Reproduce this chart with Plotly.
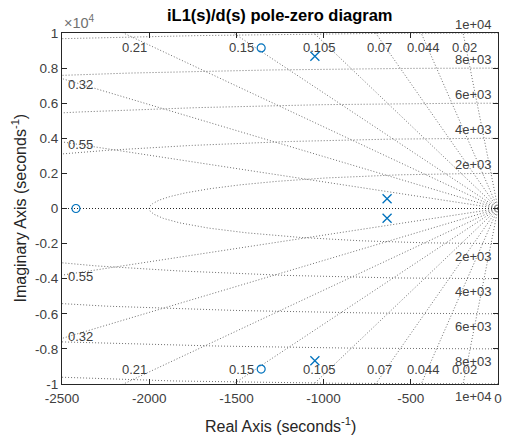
import numpy as np
import plotly.graph_objects as go

# ---- data ----
zero_re = [-2420, -1358, -1358]
zero_im = [0, 9150, -9150]
pole_re = [-1050, -1050, -636, -636]
pole_im = [8680, -8680, 560, -560]

zeta_vals = [0.02, 0.044, 0.07, 0.105, 0.15, 0.21, 0.32, 0.55]
zeta_text = ["0.02", "0.044", "0.07", "0.105", "0.15", "0.21", "0.32", "0.55"]
wn_vals = [2000, 4000, 6000, 8000, 10000]
wn_text = ["2e+03", "4e+03", "6e+03", "8e+03", "1e+04"]

x_range = [-2500, 0]
y_range = [-10000, 10000]
x_ticks = [-2500, -2000, -1500, -1000, -500, 0]
x_ticktext = ["-2500", "-2000", "-1500", "-1000", "-500", "0"]
y_ticks = [-10000, -8000, -6000, -4000, -2000, 0, 2000, 4000, 6000, 8000, 10000]
y_ticktext = ["-1", "-0.8", "-0.6", "-0.4", "-0.2", "0", "0.2", "0.4", "0.6", "0.8", "1"]

GRID = "rgb(112,112,112)"
AX = "#262626"
TXT = "#404040"
BLUE = "#0072BD"
FONT = "Liberation Sans, Arial, sans-serif"

fig = go.Figure()

# damping-ratio rays
R = 40000
for z in zeta_vals:
    s = np.sqrt(1 - z * z)
    fig.add_trace(go.Scatter(x=[0, -R * z, None, 0, -R * z], y=[0, R * s, None, 0, -R * s],
                             mode="lines", line=dict(color=GRID, width=1, dash="1px,2px"),
                             hoverinfo="skip", showlegend=False))
# natural-frequency arcs
t = np.linspace(-np.pi / 2, np.pi / 2, 721)
for w in wn_vals:
    fig.add_trace(go.Scatter(x=-w * np.cos(t), y=w * np.sin(t), mode="lines",
                             line=dict(color=GRID, width=1, dash="1px,2px"),
                             hoverinfo="skip", showlegend=False))
# real axis (zeta = 1)
fig.add_trace(go.Scatter(x=[x_range[0], 0], y=[0, 0], mode="lines",
                         line=dict(color=AX, width=1, dash="1px,2px"),
                         hoverinfo="skip", showlegend=False))

# zeros and poles
fig.add_trace(go.Scatter(x=zero_re, y=zero_im, mode="markers",
                         marker=dict(symbol="circle-open", size=8, color=BLUE, line=dict(width=1.2)),
                         showlegend=False, cliponaxis=False))
fig.add_trace(go.Scatter(x=pole_re, y=pole_im, mode="markers",
                         marker=dict(symbol="x-thin-open", size=9, color=BLUE, line=dict(width=1.3, color=BLUE)),
                         showlegend=False, cliponaxis=False))

ann = []
xmin, ymax = x_range[0], y_range[1]
for z, lab in zip(zeta_vals, zeta_text):
    s = np.sqrt(1 - z * z)
    y_at_left = -xmin * 0.957 * s / z
    if y_at_left < 0.965 * ymax:
        xl = 0.957 * xmin
        for sign, ysh in [(1, 0), (-1, -4)]:
            ann.append(dict(x=xl, y=sign * (-xl) * s / z, text=lab, showarrow=False,
                            xanchor="center", yanchor="middle", yshift=ysh,
                            font=dict(size=13, color=TXT, family=FONT)))
    else:
        y0 = 0.97 * ymax
        x0 = -y0 * z / s
        ann.append(dict(x=x0, y=y0, text=lab, showarrow=False, xanchor="center", yanchor="top",
                        font=dict(size=13, color=TXT, family=FONT)))
        ann.append(dict(x=x0, y=-y0, text=lab, showarrow=False, xanchor="center", yanchor="bottom",
                        font=dict(size=13, color=TXT, family=FONT)))
for w, lab in zip(wn_vals, wn_text):
    xr = 0.01 * xmin
    ann.append(dict(x=xr, y=w, text=lab, showarrow=False, xanchor="right", yanchor="bottom",
                    yshift=-1, font=dict(size=13, color=TXT, family=FONT)))
    ann.append(dict(x=xr, y=-w, text=lab, showarrow=False, xanchor="right", yanchor="top",
                    yshift=-3, font=dict(size=13, color=TXT, family=FONT)))

# exponent label
ann.append(dict(xref="paper", yref="paper", x=0, y=1, text="×10<sup>4</sup>", showarrow=False,
                xanchor="left", yanchor="bottom", font=dict(size=14.5, color="#707070", family=FONT)))
# title & axis labels
ann.append(dict(xref="paper", yref="paper", x=0.5, y=1, yshift=18, text="<b>iL1(s)/d(s) pole-zero diagram</b>",
                showarrow=False, xanchor="center", yanchor="middle", font=dict(size=16.5, color="#000", family=FONT)))
ann.append(dict(xref="paper", yref="paper", x=0.5, y=0, yshift=-41, text="Real Axis (seconds<sup>-1</sup>)",
                showarrow=False, xanchor="center", yanchor="middle", font=dict(size=16, color="#262626", family=FONT)))
ann.append(dict(xref="paper", yref="paper", x=0, xshift=-43, y=0.5, text="Imaginary Axis (seconds<sup>-1</sup>)",
                textangle=-90, showarrow=False, xanchor="center", yanchor="middle",
                font=dict(size=16, color="#262626", family=FONT)))

fig.update_layout(
    width=509, height=436, margin=dict(l=62, r=7, t=33, b=52),
    paper_bgcolor="white", plot_bgcolor="white", annotations=ann,
    font=dict(family=FONT, size=13, color=TXT),
)
fig.update_xaxes(range=x_range, tickvals=x_ticks, ticktext=x_ticktext, showgrid=False, zeroline=False,
                 showline=True, linecolor=AX, linewidth=1, mirror="ticks", ticks="inside",
                 ticklen=5, tickcolor=AX, ticklabelstandoff=2,
                 tickfont=dict(size=13.5, color=TXT, family=FONT))
fig.update_yaxes(range=y_range, tickvals=y_ticks, ticktext=y_ticktext, showgrid=False, zeroline=False,
                 showline=True, linecolor=AX, linewidth=1, mirror="ticks", ticks="inside",
                 ticklen=5, tickcolor=AX,
                 tickfont=dict(size=13.5, color=TXT, family=FONT))

fig.write_html("out.html")
